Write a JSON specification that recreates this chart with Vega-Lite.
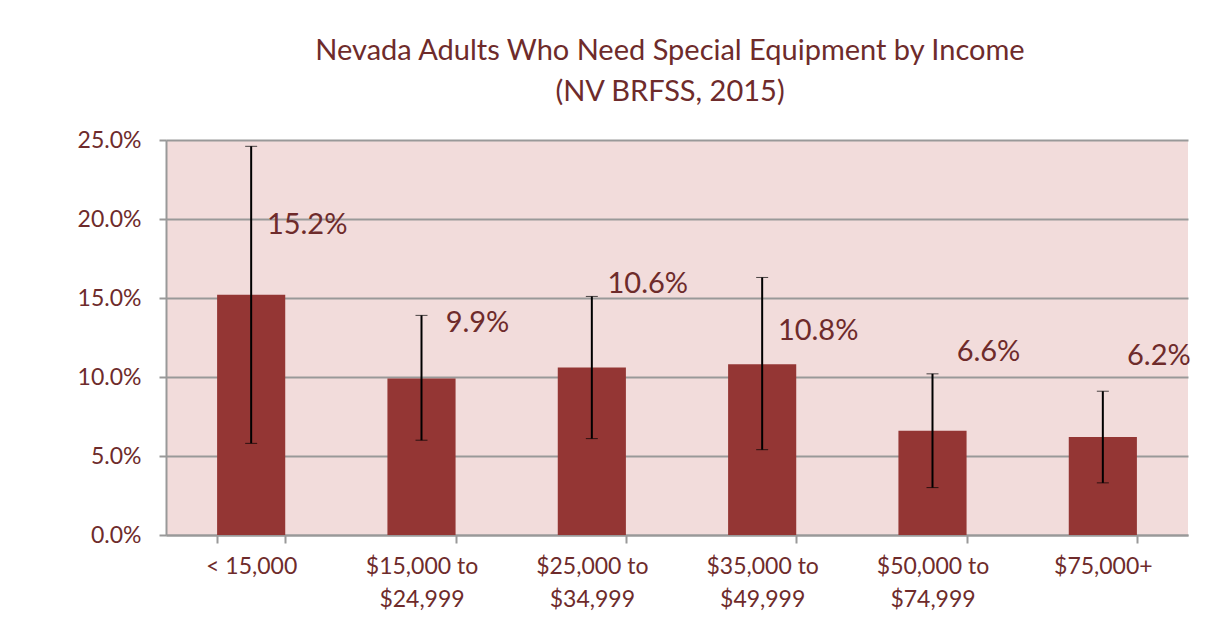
{
  "$schema": "https://vega.github.io/schema/vega-lite/v6.json",
  "width": 1022,
  "height": 395,
  "autosize": {"type": "none"},
  "padding": {"left": 166, "top": 140, "right": 23, "bottom": 100},
  "background": "white",
  "title": {
    "text": ["Nevada Adults Who Need Special Equipment by Income", "(NV BRFSS, 2015)"],
    "font": "Lato",
    "fontSize": 29,
    "fontWeight": "normal",
    "color": "#6E2B2B",
    "lineHeight": 41,
    "anchor": "middle",
    "offset": 22,
    "dx": -7
  },
  "data": {
    "values": [
      {"income": "< 15,000", "pct": 15.2, "lo": 5.8, "hi": 24.6, "labelPos": 19.6, "label": "15.2%"},
      {"income": "$15,000 to $24,999", "pct": 9.9, "lo": 6.0, "hi": 13.9, "labelPos": 13.4, "label": "9.9%"},
      {"income": "$25,000 to $34,999", "pct": 10.6, "lo": 6.1, "hi": 15.1, "labelPos": 15.9, "label": "10.6%"},
      {"income": "$35,000 to $49,999", "pct": 10.8, "lo": 5.4, "hi": 16.3, "labelPos": 12.9, "label": "10.8%"},
      {"income": "$50,000 to $74,999", "pct": 6.6, "lo": 3.0, "hi": 10.2, "labelPos": 11.6, "label": "6.6%"},
      {"income": "$75,000+", "pct": 6.2, "lo": 3.3, "hi": 9.1, "labelPos": 11.3, "label": "6.2%"}
    ]
  },
  "encoding": {
    "x": {
      "field": "income",
      "type": "nominal",
      "sort": null,
      "scale": {"paddingInner": 0.6, "paddingOuter": 0.3},
      "axis": {
        "title": null,
        "labelAngle": 0,
        "labelFont": "Lato",
        "labelFontSize": 23,
        "labelColor": "#6E2B2B",
        "labelPadding": 12,
        "labelLineHeight": 33,
        "labelExpr": "indexof(datum.label, ' to ') > 0 ? [slice(datum.label, 0, indexof(datum.label, ' to ') + 3), slice(datum.label, indexof(datum.label, ' to ') + 4)] : datum.label",
        "tickBand": "extent",
        "tickSize": 8,
        "tickColor": "#999999",
        "tickWidth": 2,
        "domainColor": "#999999",
        "domainWidth": 2,
        "grid": false
      }
    }
  },
  "layer": [
    {
      "mark": {"type": "bar", "color": "#943634"},
      "encoding": {
        "y": {
          "field": "pct",
          "type": "quantitative",
          "scale": {"domain": [0, 25], "nice": false},
          "axis": {
            "title": null,
            "values": [0, 5, 10, 15, 20, 25],
            "labelExpr": "format(datum.value, '.1f') + '%'",
            "labelFont": "Lato",
            "labelFontSize": 23,
            "labelColor": "#6E2B2B",
            "labelPadding": 18,
            "tickSize": 7,
            "tickColor": "#999999",
            "tickWidth": 2,
            "domainColor": "#999999",
            "domainWidth": 2,
            "gridColor": "#999999",
            "gridWidth": 2
          }
        }
      }
    },
    {
      "mark": {"type": "errorbar", "ticks": {"size": 12, "color": "black", "strokeWidth": 2}, "rule": {"color": "black", "strokeWidth": 2}},
      "encoding": {
        "y": {"field": "lo", "type": "quantitative"},
        "y2": {"field": "hi"}
      }
    },
    {
      "mark": {"type": "text", "font": "Lato", "fontSize": 29, "color": "#6E2B2B", "dx": 56, "baseline": "middle"},
      "encoding": {
        "y": {"field": "labelPos", "type": "quantitative"},
        "text": {"field": "label"}
      }
    }
  ],
  "config": {
    "view": {"fill": "#F2DCDB", "stroke": null}
  }
}
